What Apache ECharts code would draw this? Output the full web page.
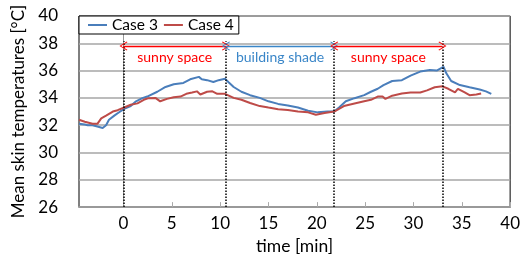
<!DOCTYPE html>
<html>
<head>
<meta charset="utf-8">
<script src="https://cdn.jsdelivr.net/npm/echarts@6/dist/echarts.min.js"></script>
<style>
  html, body { margin: 0; padding: 0; background: #fff; }
  #main { width: 523px; height: 260px; }
</style>
</head>
<body>
<div id="main"></div>
<script>
// Case 3 (blue) readings: time [min] / mean skin temperature [°C]
const case3Time = [-4.6, -4.0, -3.7, -3.2, -2.7, -2.15, -1.8, -1.5, -0.95, -0.45, 0.07, 0.75, 1.3, 1.95, 2.46, 3.5, 4.35, 5.2, 6.2, 6.9, 7.8, 8.1, 8.65, 9.3, 9.85, 10.5, 10.9, 11.4, 12.2, 13.1, 14.1, 15.0, 16.0, 17.0, 18.05, 19.1, 20.1, 21.1, 21.8, 22.3, 23.0, 23.9, 24.9, 25.6, 26.3, 26.9, 27.8, 28.8, 29.7, 30.7, 31.7, 32.4, 33.1, 33.4, 33.9, 34.8, 35.8, 36.85, 37.5, 38.05];
const case3Temp = [32.1, 32.05, 32.0, 32.0, 31.9, 31.8, 32.0, 32.4, 32.7, 32.95, 33.2, 33.4, 33.75, 33.98, 34.1, 34.45, 34.8, 35.0, 35.1, 35.36, 35.54, 35.36, 35.3, 35.17, 35.3, 35.4, 35.13, 34.8, 34.45, 34.2, 34.0, 33.75, 33.56, 33.45, 33.3, 33.06, 32.94, 33.0, 33.0, 33.3, 33.75, 33.98, 34.2, 34.45, 34.67, 34.94, 35.24, 35.3, 35.63, 35.93, 36.05, 36.0, 36.28, 35.8, 35.24, 34.94, 34.78, 34.62, 34.48, 34.3];

// Case 4 (red) readings
const case4Time = [-4.6, -4.0, -3.2, -2.7, -2.3, -1.8, -1.1, -0.6, 0.07, 0.75, 1.45, 2.1, 2.6, 3.3, 3.8, 4.5, 5.2, 5.9, 6.5, 7.1, 7.6, 7.95, 8.65, 9.2, 9.7, 10.5, 11.4, 12.2, 13.1, 14.1, 15.0, 16.0, 17.0, 18.05, 19.1, 19.9, 20.8, 21.8, 22.8, 23.9, 24.9, 25.6, 26.3, 26.8, 27.1, 27.8, 28.8, 29.7, 30.7, 31.4, 32.2, 33.0, 33.6, 34.3, 34.6, 35.3, 35.8, 36.5, 37.0];
const case4Temp = [32.4, 32.25, 32.1, 32.1, 32.5, 32.7, 33.0, 33.1, 33.3, 33.5, 33.6, 33.86, 33.98, 34.0, 33.75, 33.93, 34.05, 34.1, 34.3, 34.39, 34.48, 34.25, 34.45, 34.48, 34.3, 34.3, 34.0, 33.86, 33.63, 33.4, 33.29, 33.17, 33.12, 33.0, 32.94, 32.76, 32.9, 33.0, 33.4, 33.59, 33.75, 33.86, 34.1, 34.1, 33.93, 34.16, 34.32, 34.4, 34.4, 34.55, 34.78, 34.85, 34.67, 34.4, 34.67, 34.4, 34.2, 34.25, 34.32];

// phase boundaries [min] and phase names
const phaseBounds = [0, 10.6, 21.8, 33.0];
const phaseNames = ['sunny space', 'building shade', 'sunny space'];
const phaseColors = ['#ff0000', '#3a86c8', '#ff0000'];
const xTicks = [0, 5, 10, 15, 20, 25, 30, 35, 40];

const FONT = 'Lato';
const arrowY = 37.8;
const dividerTop = 38.15;

const zip = (a, b) => a.map((v, i) => [v, b[i]]);

// open "<" arrow head, pointing up (markLine rotates it along the line)
const chevron = 'path://M5,0 L10,9.2 L9.1,10 L5,2 L0.9,10 L0,9.2 Z';

var myChart = echarts.init(document.getElementById('main'));

let option = {
    animation: false,
    textStyle: {fontFamily: FONT},
    grid: {
        left: 79, right: 9, top: 16, bottom: 41,
        show: true, borderColor: '#000', borderWidth: 1
    },
    legend: {
        left: 79, top: 16,
        padding: [1, 5, 1, 9],
        borderColor: '#000', borderWidth: 1,
        backgroundColor: '#fff',
        icon: 'rect',
        itemWidth: 19, itemHeight: 2, itemGap: 6,
        textStyle: {fontFamily: FONT, fontSize: 15.5, color: '#000', lineHeight: 16},
        data: ['Case 3', 'Case 4']
    },
    xAxis: {
        type: 'value',
        min: -4.6, max: 40,
        name: 'time [min]',
        nameLocation: 'middle',
        nameGap: 25,
        nameTextStyle: {fontFamily: FONT, fontSize: 17.5, color: '#000'},
        axisLine: {lineStyle: {color: '#999', width: 2}},
        axisTick: {show: true, inside: true, length: 5, customValues: xTicks, lineStyle: {color: '#aaa'}},
        axisLabel: {customValues: xTicks, fontFamily: FONT, fontSize: 17, color: '#000', margin: 8},
        splitLine: {show: false}
    },
    yAxis: {
        type: 'value',
        min: 26, max: 40, interval: 2,
        name: 'Mean skin temperatures [°C]',
        nameLocation: 'middle',
        nameRotate: 90,
        nameGap: 52,
        nameTextStyle: {fontFamily: FONT, fontSize: 17, color: '#000'},
        axisLine: {show: true, lineStyle: {color: '#999', width: 1}},
        axisTick: {show: false},
        axisLabel: {fontFamily: FONT, fontSize: 17, color: '#000', margin: 21},
        splitLine: {lineStyle: {color: '#a6a6a6', width: 1.5}}
    },
    series: [
        {
            name: 'Case 3',
            type: 'line',
            symbol: 'none',
            data: zip(case3Time, case3Temp),
            lineStyle: {color: '#4a7ebb', width: 2},
            itemStyle: {color: '#4a7ebb'},
            markLine: {
                silent: true,
                symbol: ['none', 'none'],
                label: {show: false},
                lineStyle: {color: '#000', type: 'dotted', width: 1.5},
                data: phaseBounds.map(t => [{coord: [t, 26]}, {coord: [t, dividerTop]}])
            }
        },
        {
            name: 'Case 4',
            type: 'line',
            symbol: 'none',
            data: zip(case4Time, case4Temp),
            lineStyle: {color: '#be4b48', width: 2},
            itemStyle: {color: '#be4b48'},
            markLine: {
                silent: true,
                symbol: [chevron, chevron],
                symbolSize: [9, 8],
                data: phaseNames.map((name, i) => [
                    {
                        coord: [phaseBounds[i], arrowY],
                        lineStyle: {color: phaseColors[i], type: 'solid', width: 1.3},
                        label: {
                            show: true, formatter: name, position: 'insideMiddleBottom',
                            distance: 4,
                            color: phaseColors[i], fontFamily: FONT, fontSize: 14
                        }
                    },
                    {coord: [phaseBounds[i + 1], arrowY]}
                ])
            }
        }
    ]
};

myChart.setOption(option);
</script>
</body>
</html>
